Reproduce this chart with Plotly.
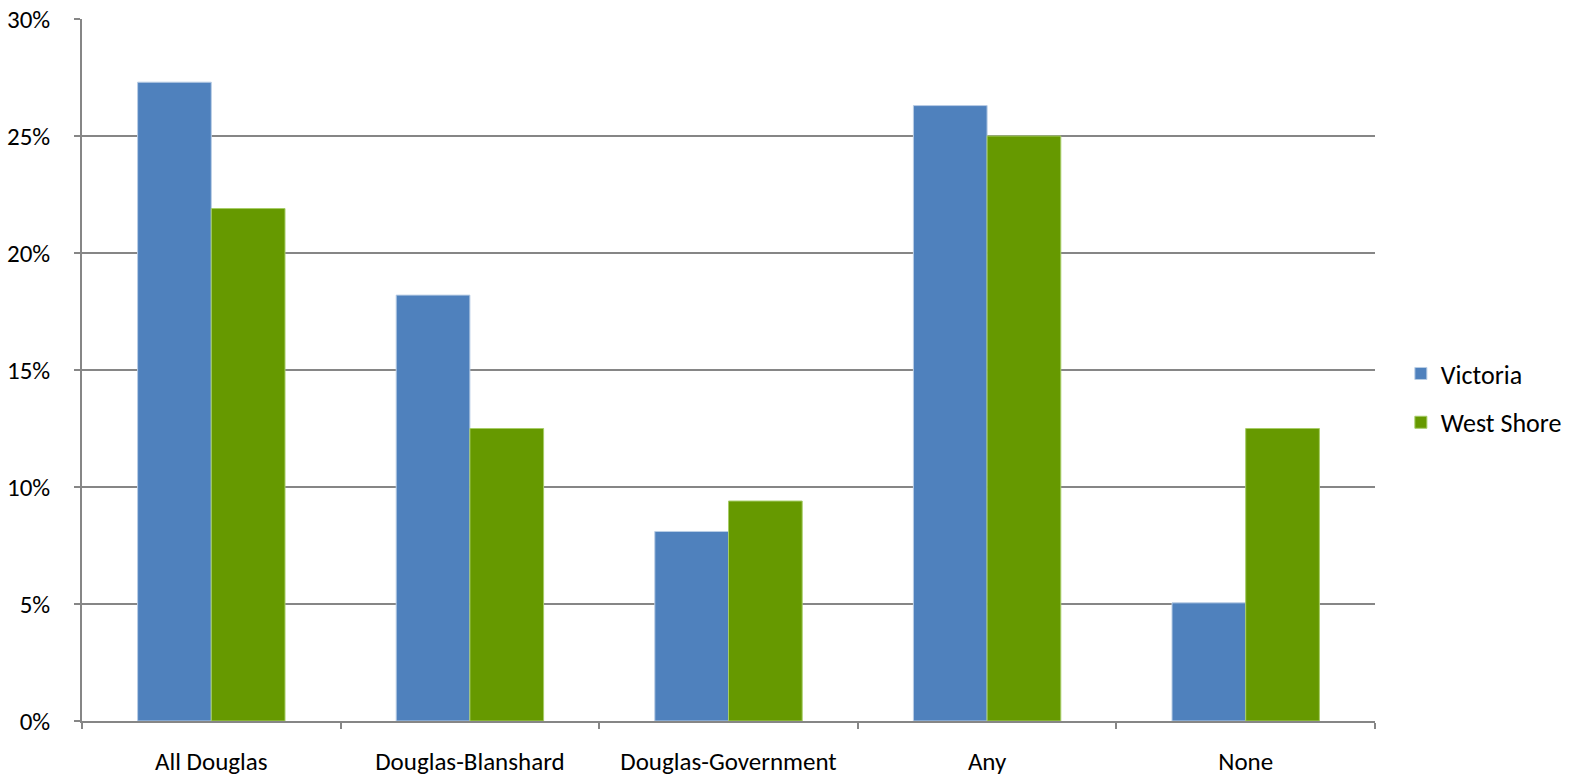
import plotly.graph_objects as go

categories = ["All Douglas", "Douglas-Blanshard", "Douglas-Government", "Any", "None"]
victoria = [27.3, 18.2, 8.1, 26.3, 5.05]
west_shore = [21.9, 12.5, 9.4, 25.0, 12.5]
y_ticks = [0, 5, 10, 15, 20, 25, 30]
y_tick_labels = ["0%", "5%", "10%", "15%", "20%", "25%", "30%"]

font_family = "Carlito, Calibri, Lato, 'Open Sans', sans-serif"

fig = go.Figure()
fig.add_trace(go.Bar(
    name="Victoria", x=categories, y=victoria,
    marker=dict(color="#4F81BD", line=dict(color="#B9CDE5", width=1)),
    legendgroup="v",
))
fig.add_trace(go.Bar(
    name="West Shore", x=categories, y=west_shore,
    marker=dict(color="#669900", line=dict(color="#A6CC66", width=1)),
    legendgroup="w",
))

fig.update_layout(
    width=1576, height=779,
    margin=dict(l=82, r=201, t=19, b=58, autoexpand=False),
    paper_bgcolor="white", plot_bgcolor="white",
    barmode="group", bargap=0.43, bargroupgap=0,
    font=dict(family=font_family, size=25, color="#000000"),
    legend=dict(
        x=1.02, y=0.46, xanchor="left", yanchor="middle",
        font=dict(size=26), tracegroupgap=12,
        bgcolor="rgba(0,0,0,0)",
    ),
)
fig.update_xaxes(
    showline=True, linecolor="#868686", linewidth=1.5,
    ticks="outside", tickson="boundaries", ticklen=6, tickcolor="#868686", tickwidth=1.5,
    showgrid=False, tickfont=dict(size=25), automargin=False, ticklabelstandoff=17,
)
fig.update_yaxes(
    range=[0, 30], tickvals=y_ticks, ticktext=y_tick_labels,
    showline=True, linecolor="#868686", linewidth=1.5,
    ticks="outside", ticklen=6, tickcolor="#868686", tickwidth=1.5,
    showgrid=True, gridcolor="#868686", gridwidth=1.5,
    zeroline=False, tickfont=dict(size=25), automargin=False, ticklabelstandoff=19,
)
fig.write_html("out.html", config={"displayModeBar": False},
               post_script="document.body.style.margin='0';")
